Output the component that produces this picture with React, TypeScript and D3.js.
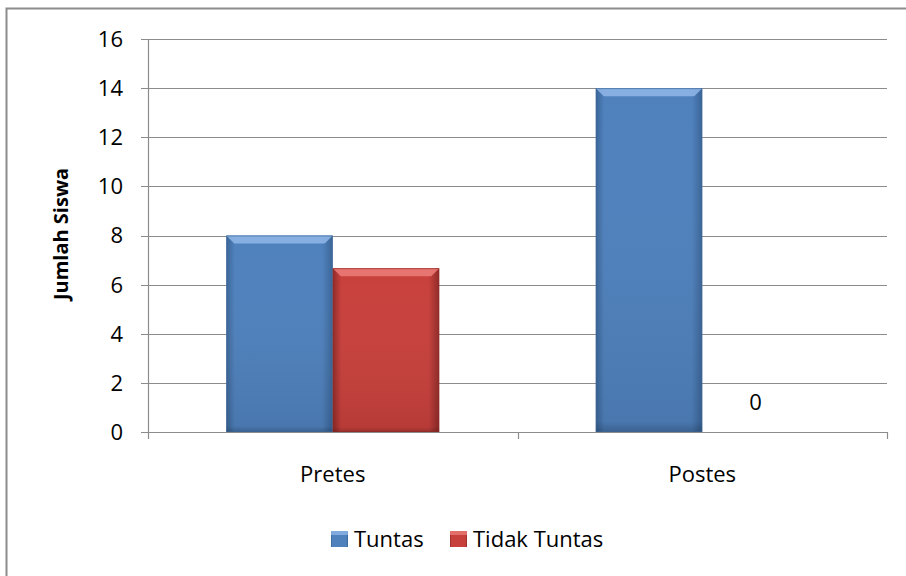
import * as d3 from 'd3';

const categories = ['Pretes', 'Postes'];
const seriesNames = ['Tuntas', 'Tidak Tuntas'];
const tuntas = [8, 14];
const tidakTuntas = [6.67, 0];
const yTicks = [0, 2, 4, 6, 8, 10, 12, 14, 16];

const W = 906;
const H = 576;
const FONT = '"Open Sans", "Noto Sans", "Liberation Sans", sans-serif';

const palette = [
  { base: '#4F81BD', light: '#8DB4E6', dark: '#3A6496' },
  { base: '#C8403C', light: '#EA7A76', dark: '#8F2A27' },
];

export default function App() {
  const plot = { left: 148, right: 887, top: 39, bottom: 432 };

  const x0 = d3.scaleBand().domain(categories).range([plot.left, plot.right]).paddingInner(0).paddingOuter(0);
  const x1 = d3.scaleBand().domain(seriesNames).range([0, x0.bandwidth()]).paddingInner(0).paddingOuter(0.735);
  const y = d3.scaleLinear().domain([0, 16]).range([plot.bottom, plot.top]);

  const values = [tuntas, tidakTuntas];
  const bev = 8;

  return (
    <svg width={W} height={H} style={{ position: 'fixed', left: 0, top: 0, background: '#fff' }}>
      <defs>
        {palette.map((c, i) => (
          <linearGradient key={i} id={`side${i}`} x1="0" x2="1" y1="0" y2="0">
            <stop offset="0" stopColor={c.dark} />
            <stop offset="0.08" stopColor={c.base} />
            <stop offset="0.9" stopColor={c.base} />
            <stop offset="1" stopColor={c.dark} />
          </linearGradient>
        ))}
        {palette.map((c, i) => (
          <linearGradient key={i} id={`vert${i}`} x1="0" x2="0" y1="0" y2="1">
            <stop offset="0" stopColor="#fff" stopOpacity="0" />
            <stop offset="0.97" stopColor="#000" stopOpacity="0.08" />
            <stop offset="1" stopColor="#000" stopOpacity="0.25" />
          </linearGradient>
        ))}
      </defs>

      <rect x={6.5} y={8.5} width={W + 10} height={H + 10} fill="#fff" stroke="#8c8c8c" strokeWidth={2} />

      {yTicks.map((t) => (
        <g key={t}>
          <line x1={plot.left - 7} x2={plot.right} y1={Math.round(y(t)) + 0.5} y2={Math.round(y(t)) + 0.5} stroke="#8c8c8c" strokeWidth={1.2} />
          <text x={123} y={y(t)} dy="0.36em" textAnchor="end" fontFamily={FONT} fontSize={22} fill="#000">
            {t}
          </text>
        </g>
      ))}

      <line x1={plot.left + 0.5} x2={plot.left + 0.5} y1={plot.top} y2={plot.bottom + 7} stroke="#8c8c8c" strokeWidth={1.2} />
      {[...categories.map((c) => x0(c) as number), plot.right].slice(1).map((xv, i) => (
        <line key={i} x1={Math.round(xv) + 0.5} x2={Math.round(xv) + 0.5} y1={plot.bottom} y2={plot.bottom + 7} stroke="#8c8c8c" strokeWidth={1.2} />
      ))}

      {categories.map((cat, ci) =>
        seriesNames.map((s, si) => {
          const v = values[si][ci];
          const bx = (x0(cat) as number) + (x1(s) as number);
          const bw = x1.bandwidth();
          const by = y(v);
          const bh = plot.bottom - by;
          const c = palette[si];
          if (v === 0) {
            return (
              <text key={s + cat} x={bx + bw / 2} y={y(1.2)} dy="0.36em" textAnchor="middle" fontFamily={FONT} fontSize={22} fill="#000">
                0
              </text>
            );
          }
          return (
            <g key={s + cat}>
              <rect x={bx} y={by} width={bw} height={bh} fill={`url(#side${si})`} />
              <rect x={bx} y={by} width={bw} height={bh} fill={`url(#vert${si})`} />
              <polygon
                points={`${bx},${by} ${bx + bw},${by} ${bx + bw - bev},${by + bev} ${bx + bev},${by + bev}`}
                fill={c.light}
                opacity={0.9}
              />
              <rect x={bx + 0.5} y={by + 0.5} width={bw - 1} height={bh - 1} fill="none" stroke={c.dark} strokeOpacity={0.6} strokeWidth={1} />
            </g>
          );
        })
      )}

      {categories.map((cat) => (
        <text key={cat} x={(x0(cat) as number) + x0.bandwidth() / 2} y={482} textAnchor="middle" fontFamily={FONT} fontSize={22} fill="#000">
          {cat}
        </text>
      ))}

      <text
        transform={`translate(61, 234) rotate(-90)`}
        textAnchor="middle"
        dy="0.36em"
        fontFamily={FONT}
        fontSize={20}
        fontWeight="bold"
        fill="#000"
      >
        Jumlah Siswa
      </text>

      {[
        { x: 331, label: seriesNames[0], i: 0 },
        { x: 450, label: seriesNames[1], i: 1 },
      ].map((l) => (
        <g key={l.label}>
          <rect x={l.x} y={531} width={17} height={16} fill={`url(#side${l.i})`} />
          <rect x={l.x} y={531} width={17} height={4} fill={palette[l.i].light} opacity={0.8} />
          <text x={l.x + 23} y={547} fontFamily={FONT} fontSize={22} fill="#000">
            {l.label}
          </text>
        </g>
      ))}
    </svg>
  );
}
